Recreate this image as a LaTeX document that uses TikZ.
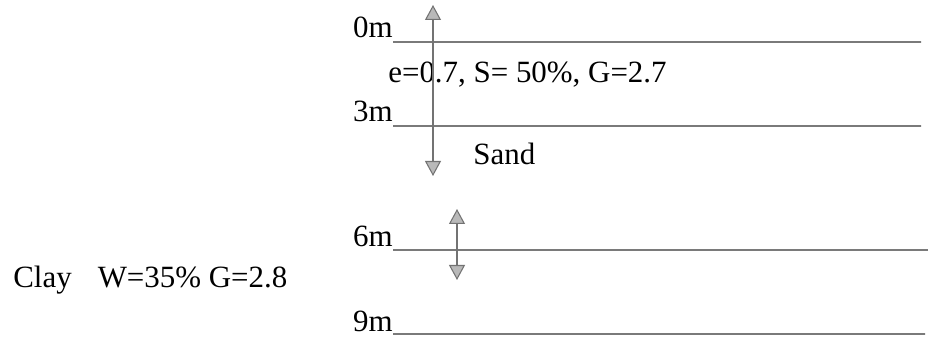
\documentclass[tikz,border=0pt]{standalone}
\usepackage{fontspec}
\setmainfont{Liberation Serif}
\usepackage{tikz}
\usetikzlibrary{arrows.meta, positioning}
\tikzset{
	depthlbl/.style={inner sep=0pt, anchor=base east, font=\fontsize{17.6}{20}\selectfont},
	soiltext/.style={inner sep=0pt, anchor=base west, font=\fontsize{17.6}{20}\selectfont},
	layerline/.style={draw=black!80, line width=0.8pt},
	levelarr/.style={{Triangle[length=3mm, width=3.2mm, fill=gray!55]}-{Triangle[length=3mm, width=3.2mm, fill=gray!55]}, draw=gray!90!black, line width=0.6pt},
}

\begin{document}
\begin{tikzpicture}[x=0.2mm, y=-0.2mm]
				\useasboundingbox (0,0) rectangle (928,340);
				\node[depthlbl] (d0) at (393,38) {0m};
				\node[depthlbl] (d3) at (393,122) {3m};
				\node[depthlbl] (d6) at (393,247) {6m};
				\node[depthlbl] (d9) at (393,331) {9m};
				\coordinate (e0) at (921,42);
				\coordinate (e3) at (921,126);
				\coordinate (e6) at (928,250);
				\coordinate (e9) at (925,334);
				\draw[layerline] ([yshift=-0.8mm]d0.base east) -- (e0);
				\draw[layerline] ([yshift=-0.8mm]d3.base east) -- (e3);
				\draw[layerline] ([yshift=-0.6mm]d6.base east) -- (e6);
				\draw[layerline] ([yshift=-0.6mm]d9.base east) -- (e9);
				\node[soiltext] (sandprop) at (388,83) {e=0.7, S= 50\%, G=2.7};
				\node[soiltext] (sand) at (473,165) {Sand};
				\node[soiltext] (clay) at (13,288) {Clay\hspace{5.2mm}W=35\% G=2.8};
				\coordinate (a1t) at (433,5);
				\coordinate (a1b) at (433,176);
				\coordinate (a2t) at (457,209);
				\coordinate (a2b) at (457,280);
				\draw[levelarr] (a1t) -- (a1b);
				\draw[levelarr] (a2t) -- (a2b);
			\end{tikzpicture}
\end{document}
